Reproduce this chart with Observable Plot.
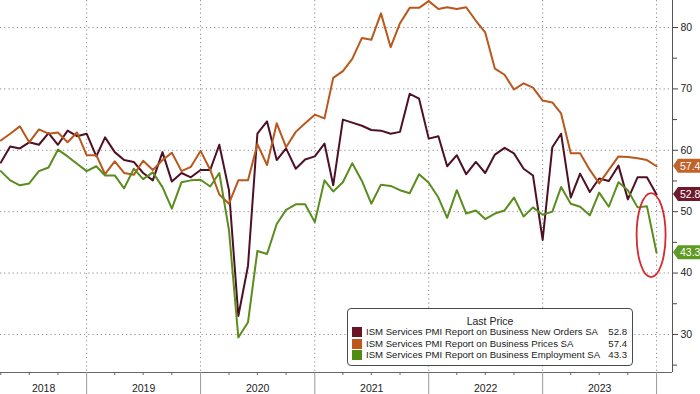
<!DOCTYPE html>
<html><head><meta charset="utf-8">
<script src="https://cdn.jsdelivr.net/npm/d3@7"></script>
<script src="https://cdn.jsdelivr.net/npm/@observablehq/plot@0.6"></script>
<style>
html,body{margin:0;padding:0;background:#fff;}
#wrap{position:relative;width:700px;height:394px;overflow:hidden;font-family:"Liberation Sans",Arial,sans-serif;}
#legend{position:absolute;left:347px;top:308px;width:284px;height:56px;border:1px solid #4a4a4a;border-radius:4px;background:#fff;color:#222;font-size:9.6px;}
#legend .lt{position:absolute;top:6px;left:0;right:0;text-align:center;line-height:12px;font-size:10.5px;}
#legend .row{position:absolute;left:0;right:0;height:12px;line-height:12px;white-space:nowrap;}
#legend .sw{position:absolute;left:4px;top:1px;width:10px;height:10px;}
#legend .nm{position:absolute;left:18px;top:0;}
#legend .val{position:absolute;right:5px;top:0;}
</style>
</head><body>
<div id="wrap"></div>
<script>
// ---- data (monthly, Mar 2018 .. Dec 2023) ----
const firstMonth = "2018-03-01";
const lastMonth = "2023-12-01";
const newOrders = [58.0,60.6,60.3,61.3,60.9,62.8,60.9,63.2,62.3,62.7,59.0,62.1,
  59.7,58.4,58.1,56.3,55.1,59.7,54.9,56.3,55.6,56.8,56.8,60.9,
  53.5,33.0,41.2,62.7,64.7,58.4,60.3,57.0,58.5,59.0,
  61.1,54.3,65.0,64.5,64.0,63.3,63.2,62.7,63.0,69.2,68.4,61.9,
  62.3,57.4,59.2,56.1,58.1,56.3,59.3,60.4,59.5,57.0,55.9,45.4,
  60.5,62.7,52.3,56.2,53.2,55.4,55.0,57.5,52.0,55.6,55.6,52.8];
const prices = [61.6,62.7,63.9,61.3,63.4,62.7,62.9,61.3,62.9,59.2,59.2,56.1,
  58.2,56.3,56.0,58.3,56.8,58.4,59.6,56.6,57.3,59.9,56.8,52.8,
  51.3,55.1,55.1,61.0,57.6,64.4,60.5,63.0,64.4,65.8,
  65.2,71.8,72.9,74.9,78.3,78.0,82.3,76.8,80.7,83.2,83.2,84.3,
  83.0,83.3,83.0,83.3,81.1,79.2,73.3,72.3,69.9,70.9,70.2,68.1,
  67.8,66.0,59.5,59.5,56.8,54.6,56.8,59.0,58.9,58.7,58.4,57.4];
const employment = [56.6,55.1,54.3,54.6,56.6,57.2,60.1,59.0,57.8,56.6,57.4,55.9,
  55.9,53.8,57.0,55.3,56.4,54.0,50.5,54.8,55.1,55.2,54.1,56.3,
  47.0,29.5,32.0,43.6,43.1,48.0,50.3,51.2,51.2,48.3,
  55.1,53.3,54.8,57.9,55.0,51.3,54.4,54.2,53.5,53.0,56.1,54.7,
  52.3,49.0,53.5,49.7,50.2,48.8,49.7,50.2,52.3,49.2,50.7,49.5,
  50.0,54.0,51.3,50.8,49.4,53.1,50.8,54.8,53.5,50.7,50.9,43.3];
const seriesNames = [
  "ISM Services PMI Report on Business New Orders SA",
  "ISM Services PMI Report on Business Prices SA",
  "ISM Services PMI Report on Business Employment SA"];
const lineColors = ["#4e1024", "#b8581c", "#5a8c1e"];
const swatchColors = ["#6b1424", "#c0561a", "#4f8c14"];
const labelColors = ["#6e1a2c", "#c0642a", "#5f9a22"];
const yTickLabels = [30, 40, 50, 60, 70, 80];
const yMinorTicks = [25, 35, 45, 55, 65, 75];
const years = [2018, 2019, 2020, 2021, 2022, 2023];
const callout = {date: "2023-12-16", value: 46.1};
const legendTitle = "Last Price";

// ---- build ----
const months = d3.utcMonth.range(new Date(firstMonth), d3.utcMonth.offset(new Date(lastMonth), 1));
const dates = months.map(m => d3.utcMonth.offset(m, 1)); // plotted at month end
const allSeries = [newOrders, prices, employment];
const rows = allSeries.flatMap((vals, s) => vals.map((v, i) => ({date: dates[i], value: v, name: seriesNames[s]})));

const xDomain = [new Date("2018-03-31"), new Date("2024-02-21")];
const yDomain = [23.8, 84.4];
const yearStarts = d3.utcYear.range(xDomain[0], xDomain[1]);
const quarterTicks = d3.utcMonth.every(3).range(xDomain[0], xDomain[1]).filter(d => d.getUTCMonth() !== 0);
const yearMids = years.map(y => {
  const a = Math.max(+new Date(Date.UTC(y, 0, 1)), +xDomain[0]);
  const b = Math.min(+new Date(Date.UTC(y + 1, 0, 1)), +xDomain[1]);
  return new Date((a + b) / 2);
});
const dotted = {stroke: "#8c8c8c", strokeOpacity: 1, strokeWidth: 1, strokeDasharray: "1.2,3"};

const plot = Plot.plot({
  width: 700, height: 394,
  marginLeft: 0, marginRight: 28, marginTop: 0, marginBottom: 22,
  style: {fontFamily: "'Liberation Sans', Arial, sans-serif", fontSize: "10.5px", color: "#222", background: "transparent"},
  x: {type: "utc", domain: xDomain},
  y: {domain: yDomain},
  color: {domain: seriesNames, range: lineColors},
  marks: [
    Plot.gridY(yTickLabels, dotted),
    Plot.gridX(yearStarts, dotted),
    Plot.ruleY([yDomain[0]], {stroke: "#666"}),
    Plot.ruleX([xDomain[1]], {stroke: "#555"}),
    Plot.axisX({ticks: yearStarts, tickSize: 22, tickFormat: () => "", stroke: "#999", label: null}),
    Plot.axisX({ticks: quarterTicks, tickSize: 3, tickFormat: () => "", stroke: "#666", label: null}),
    Plot.axisX({ticks: yearMids, tickSize: 0, tickPadding: 12, tickFormat: d => String(d.getUTCFullYear()), label: null}),
    Plot.axisY({anchor: "right", ticks: yTickLabels, tickSize: 5, tickPadding: 3, stroke: "#444", label: null}),
    Plot.axisY({anchor: "right", ticks: yMinorTicks, tickSize: 4, tickFormat: () => "", stroke: "#444", label: null}),
    Plot.line(rows, {x: "date", y: "value", z: "name", stroke: "name", strokeWidth: 2, strokeLinejoin: "round"}),
    (index, scales) => {
      const g = d3.create("svg:g").attr("text-anchor", "start");
      const x0 = scales.x(xDomain[1]);
      allSeries.forEach((vals, s) => {
        const v = vals[vals.length - 1];
        const y = scales.y(v);
        g.append("path")
          .attr("d", `M${x0 + 1},${y} L${x0 + 6},${y - 7} H700 V${y + 7} H${x0 + 6} Z`)
          .attr("fill", labelColors[s]);
        g.append("text").attr("x", x0 + 8).attr("y", y).attr("dy", "0.36em")
          .attr("text-anchor", "start")
          .attr("fill", "#fff").attr("font-size", 10.5).text(v.toFixed(1));
      });
      return g.node();
    },
    (index, scales) => d3.create("svg:ellipse")
      .attr("cx", scales.x(new Date(callout.date))).attr("cy", scales.y(callout.value))
      .attr("rx", 14.5).attr("ry", 42).attr("fill", "none")
      .attr("stroke", "#d42a30").attr("stroke-width", 1.8).node()
  ]
});
const wrap = document.getElementById("wrap");
wrap.appendChild(plot);

// legend overlay
const lg = document.createElement("div");
lg.id = "legend";
const t = document.createElement("div"); t.className = "lt"; t.textContent = legendTitle; lg.appendChild(t);
seriesNames.forEach((n, s) => {
  const r = document.createElement("div"); r.className = "row"; r.style.top = (17 + s * 11.7) + "px";
  const sw = document.createElement("span"); sw.className = "sw"; sw.style.background = swatchColors[s];
  const nm = document.createElement("span"); nm.className = "nm"; nm.textContent = n;
  const vl = document.createElement("span"); vl.className = "val"; const vals = allSeries[s]; vl.textContent = vals[vals.length - 1].toFixed(1);
  r.append(sw, nm, vl); lg.appendChild(r);
});
wrap.appendChild(lg);
</script>
</body></html>
